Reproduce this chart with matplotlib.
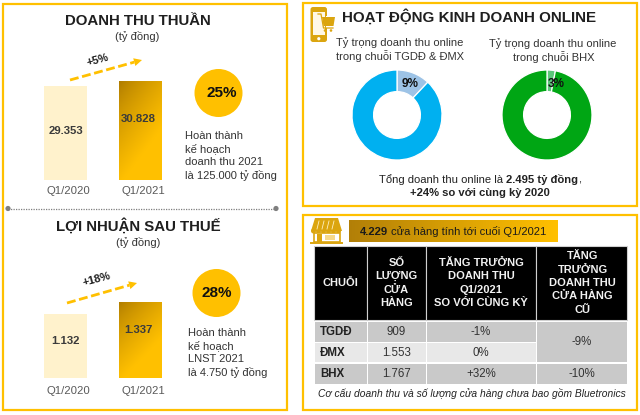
import numpy as np
import matplotlib
matplotlib.use("Agg")
import matplotlib.pyplot as plt
from matplotlib.patches import Rectangle, Circle, FancyBboxPatch, Polygon

plt.rcParams['font.family'] = ['Liberation Sans', 'DejaVu Sans']

W, H = 640, 415
GOLD = '#FFC000'
ICON = '#DBA50F'
DARK = '#1F1F1F'
GREY = '#595959'

# ---- data ----
quarters = ['Q1/2020', 'Q1/2021']
revenue = [29353, 30828]
profit = [1132, 1337]
revenue_labels = ['29.353', '30.828']
profit_labels = ['1.132', '1.337']
online_tgdd_share = [12, 88]     # slice as drawn in the picture
online_bhx_share = [3, 97]
online_tgdd_label = '9%'
online_bhx_label = '3%'

table_header = ['CHUỖI', 'SỐ\nLƯỢNG\nCỬA\nHÀNG',
                'TĂNG TRƯỞNG\nDOANH THU\nQ1/2021\nSO VỚI CÙNG KỲ',
                'TĂNG\nTRƯỞNG\nDOANH THU\nCỬA HÀNG\nCŨ']
table_chains = ['TGDĐ', 'ĐMX', 'BHX']
table_stores = ['909', '1.553', '1.767']
table_growth = ['-1%', '0%', '+32%']
table_old_merged = '-9%'
table_old_bhx = '-10%'

fig = plt.figure(figsize=(6.4, 4.15), dpi=100, facecolor='white')


def px_axes(x0, y0, x1, y1, **kw):
    return fig.add_axes([x0 / W, 1 - y1 / H, (x1 - x0) / W, (y1 - y0) / H], **kw)


bg = fig.add_axes([0, 0, 1, 1])
bg.set_xlim(0, W)
bg.set_ylim(H, 0)
bg.axis('off')


def gradient_fill(ax, patch, extent, c0=(0.68, 0.48, 0.0), c1=(1.0, 0.753, 0.0), horizontal=False):
    n = 64
    xx, yy = np.meshgrid(np.linspace(0, 1, n), np.linspace(0, 1, n))
    t = xx if horizontal else np.clip(0.55 * xx + 0.95 * yy, 0, 1) ** 0.75
    img = np.zeros((n, n, 3))
    for i in range(3):
        img[..., i] = c0[i] + (c1[i] - c0[i]) * t
    x0, x1, y0, y1 = extent
    xl, yl = ax.get_xlim(), ax.get_ylim()
    im = ax.imshow(img, extent=(x0, x1, y0, y1), origin='upper', aspect='auto', zorder=2)
    im.set_clip_path(patch)
    ax.set_xlim(xl)
    ax.set_ylim(yl)


# ---- panels ----
for (x0, y0, x1, y1) in [(3, 4, 287, 410), (303, 3.5, 637, 206), (303, 215, 637, 410)]:
    bg.add_patch(Rectangle((x0, y0), x1 - x0, y1 - y0, fc='white', ec=GOLD, lw=1.6))

# dotted divider
bg.plot([8, 276], [208.5, 208.5], color='#7F7F7F', lw=0.9, ls=(0, (1, 1)))
for x in (8, 276):
    bg.add_patch(Circle((x, 208.5), 2.6, fc='#7F7F7F', ec='none'))


# ---- bar charts ----
def bars(x0, x1, y_top, y_bot, ymax, vals, labels, label_frac, label_dx, pad, width=0.573):
    ax = px_axes(x0, y_top, x1, y_bot)
    ax.patch.set_alpha(0)
    ax.set_xlim(-0.473, 1.46)
    ax.set_ylim(0, ymax)
    b = ax.bar([0, 1], vals, width=width, color=['#FFF2CC', 'none'], linewidth=0, zorder=1)
    gradient_fill(ax, b[1], (1 - width / 2, 1 + width / 2, 0, vals[1]))
    for s in ax.spines.values():
        s.set_visible(False)
    ax.set_yticks([])
    ax.set_xticks([0.04, 1.04], quarters, fontsize=8.2, color=GREY)
    ax.tick_params(axis='x', length=0, pad=pad)
    ax.text(0, vals[0] * label_frac[0], labels[0], ha='center', va='center',
            fontsize=8.2, fontweight='bold', color='#3B3B3B', zorder=3)
    ax.text(1 + label_dx, vals[1] * label_frac[1], labels[1], ha='center', va='center',
            fontsize=8.2, fontweight='bold', color='#3B3B3B', zorder=3)
    return ax


bars(30, 175, 70, 180, 34350, revenue, revenue_labels, (0.52, 0.62), -0.024, 4.3)
bars(30, 175, 288, 378, 1580, profit, profit_labels, (0.58, 0.63), -0.03, 5.5)


# ---- arrows ----
def dashed_arrow(x0, y0, x1, y1):
    v = np.array([x1 - x0, y1 - y0], float)
    u = v / np.hypot(*v)
    n = np.array([-u[1], u[0]])
    tail = np.array([x1, y1]) - u * 8
    bg.plot([x0, tail[0]], [y0, tail[1]], color=GOLD, lw=2.0, ls=(0, (3.2, 1.3)))
    bg.add_patch(Polygon([(x1, y1), tail + n * 4, tail - n * 4], fc=GOLD, ec='none'))


dashed_arrow(70, 80, 142, 60)
dashed_arrow(67, 303, 137, 283)
bg.text(98, 60.5, '+5%', ha='center', va='center', fontsize=8, fontweight='bold', rotation=15, color=DARK)
bg.text(97, 279.5, '+18%', ha='center', va='center', fontsize=8, fontweight='bold', rotation=15, color=DARK)

# ---- left titles ----
bg.text(137.5, 21, 'DOANH THU THUẦN', ha='center', va='center', fontsize=10.8, fontweight='bold', color=DARK)
bg.text(137.5, 37, '(tỷ đồng)', ha='center', va='center', fontsize=8, color='#333333')
bg.text(138, 226, 'LỢI NHUẬN SAU THUẾ', ha='center', va='center', fontsize=10.8, fontweight='bold', color=DARK)
bg.text(138, 242.5, '(tỷ đồng)', ha='center', va='center', fontsize=8, color='#333333')

# ---- badges ----
bg.add_patch(Circle((218.5, 93), 24, fc=GOLD, ec='none'))
bg.text(222, 93, '25%', ha='center', va='center', fontsize=11, fontweight='bold', color='#111111')
bg.add_patch(Circle((216.5, 293), 24, fc=GOLD, ec='none'))
bg.text(217, 293, '28%', ha='center', va='center', fontsize=11, fontweight='bold', color='#111111')

for y, s in zip([135.5, 149, 162, 175.5], ['Hoàn thành', 'kế hoạch', 'doanh thu 2021', 'là 125.000 tỷ đồng']):
    bg.text(185, y, s, ha='left', va='center', fontsize=8, color='#333333')
for y, s in zip([333, 345.5, 359, 372], ['Hoàn thành', 'kế hoạch', 'LNST 2021', 'là 4.750 tỷ đồng']):
    bg.text(187.5, y, s, ha='left', va='center', fontsize=8, color='#333333')

# ---- online panel ----
bg.text(469.5, 17, 'HOẠT ĐỘNG KINH DOANH ONLINE', ha='center', va='center', fontsize=10.9, fontweight='bold', color=DARK)
# phone icon
bg.add_patch(FancyBboxPatch((310.5, 7), 16.5, 35, boxstyle='round,pad=0,rounding_size=2.5', fc=ICON, ec='none'))
bg.add_patch(Rectangle((312.5, 12), 12.8, 23.5, fc='#FFF8E6', ec='none'))
bg.add_patch(Circle((318.8, 38.7), 1.6, fc='white', ec='none'))
bg.add_patch(Rectangle((325.5, 16), 2, 12, fc='white', ec='none'))
bg.add_patch(Polygon([(322, 17), (335, 17), (333.5, 26), (323.5, 26)], fc=ICON, ec='none'))
bg.plot([318, 321, 323.5, 333], [14, 14, 28, 28], color=ICON, lw=0.9)
for x in (325, 331):
    bg.add_patch(Circle((x, 30.5), 1.3, fc=ICON, ec='none'))

bg.text(400, 43, 'Tỷ trọng doanh thu online', ha='center', va='center', fontsize=8.05, color='#333333')
bg.text(400, 56, 'trong chuỗi TGDĐ & ĐMX', ha='center', va='center', fontsize=8.05, color='#333333')
bg.text(552.5, 44, 'Tỷ trọng doanh thu online', ha='center', va='center', fontsize=8.05, color='#333333')
bg.text(554, 57, 'trong chuỗi BHX', ha='center', va='center', fontsize=8.05, color='#333333')


def donut(cx, cy, r, shares, colors, label, lx, ly):
    ax = px_axes(cx - r * 1.02, cy - r * 1.02, cx + r * 1.02, cy + r * 1.02)
    ax.pie(shares, colors=colors, startangle=90, counterclock=False, radius=1,
           wedgeprops=dict(width=0.48, edgecolor='white', linewidth=0.9))
    ax.set_xlim(-1.02, 1.02)
    ax.set_ylim(-1.02, 1.02)
    ax.patch.set_alpha(0)
    ax.text(lx, ly, label, ha='center', va='center', fontsize=8.5, fontweight='bold', color='#111111')


donut(397, 115, 45, online_tgdd_share, ['#9DC3E6', '#00B0F0'], online_tgdd_label, 0.30, 0.68)
donut(547, 115, 45, online_bhx_share, ['#5CC87A', '#00A614'], online_bhx_label, 0.21, 0.70)

bg.text(503, 179.5, 'Tổng doanh thu online là', ha='right', va='center', fontsize=8.1, color='#222222')
bg.text(505.5, 179.5, '2.495 tỷ đồng', ha='left', va='center', fontsize=8.1, fontweight='bold', color='#222222')
bg.text(578.5, 179.5, ',', ha='left', va='center', fontsize=8.1, color='#222222')
bg.text(480, 193, '+24% so với cùng kỳ 2020', ha='center', va='center', fontsize=8.1, fontweight='bold', color='#222222')

# ---- store panel ----
bg.add_patch(Polygon([(315, 218), (338, 218), (342, 231), (311, 231)], fc=ICON, ec='none'))
for x in np.arange(313.5, 341, 5):
    bg.add_patch(Circle((x, 231), 2.5, fc=ICON, ec='none'))
for x in (318, 323, 328, 333):
    bg.plot([x + 1, x - 1], [221, 229], color='#FFF0C0', lw=0.6)
bg.add_patch(Rectangle((313.5, 233), 26, 9, fc='white', ec=ICON, lw=1.2))
bg.add_patch(Rectangle((317, 234), 5, 8, fc=ICON, ec='none'))
bg.add_patch(Rectangle((325, 235), 10, 5, fc='#F6D98A', ec='none'))
bg.plot([311, 342], [243, 243], color=ICON, lw=1.4)

band = Rectangle((349, 220), 209, 22, fc='none', ec='none')
bg.add_patch(band)
gradient_fill(bg, band, (349, 558, 242, 220), c0=(0.70, 0.50, 0.03), horizontal=True)
bg.text(360, 231.5, '4.229', ha='left', va='center', fontsize=8.1, fontweight='bold', color='#1A1A1A', zorder=4)
bg.text(391, 231.5, 'cửa hàng tính tới cuối Q1/2021', ha='left', va='center', fontsize=8.05, color='#1A1A1A', zorder=4)

col_x = [314, 367, 426, 536, 627]
row_y = [(322, 342), (343, 362), (364, 384)]
row_fc = ['#C9C9C9', '#E8E8E8', '#C9C9C9']
for i in range(4):
    bg.add_patch(Rectangle((col_x[i], 246), col_x[i + 1] - col_x[i], 73.5, fc='black', ec='#D0D0D0', lw=0.8, zorder=3))
    bg.text((col_x[i] + col_x[i + 1]) / 2 + (1 if i == 3 else 0), 283, table_header[i], ha='center', va='center',
            fontsize=8, fontweight='bold', color='#F2F2F2', linespacing=1.42, zorder=4)
for r, (y0, y1) in enumerate(row_y):
    ym = (y0 + y1) / 2
    for c in range(3):
        bg.add_patch(Rectangle((col_x[c] + 0.5, y0), col_x[c + 1] - col_x[c] - 1, y1 - y0, fc=row_fc[r], ec='none', zorder=3))
    bg.text(320, ym, table_chains[r], ha='left', va='center', fontsize=8.3, fontweight='bold', color='#222222', zorder=4)
    bg.text((col_x[1] + col_x[2]) / 2, ym, table_stores[r], ha='center', va='center', fontsize=8.3, color='#333333', zorder=4)
    bg.text((col_x[2] + col_x[3]) / 2, ym, table_growth[r], ha='center', va='center', fontsize=8.3, color='#333333', zorder=4)
bg.add_patch(Rectangle((col_x[3] + 0.5, 322), col_x[4] - col_x[3] - 1, 40, fc='#C9C9C9', ec='none', zorder=3))
bg.add_patch(Rectangle((col_x[3] + 0.5, 364), col_x[4] - col_x[3] - 1, 20, fc='#C9C9C9', ec='none', zorder=3))
bg.text(582, 342, table_old_merged, ha='center', va='center', fontsize=8.3, color='#333333', zorder=4)
bg.text(582, 374, table_old_bhx, ha='center', va='center', fontsize=8.3, color='#333333', zorder=4)
bg.text(472, 393.5, 'Cơ cấu doanh thu và số lượng cửa hàng chưa bao gồm Bluetronics', ha='center', va='center',
        fontsize=7.35, fontstyle='italic', color='#222222', zorder=4)

fig.savefig('out.png', dpi=100)
